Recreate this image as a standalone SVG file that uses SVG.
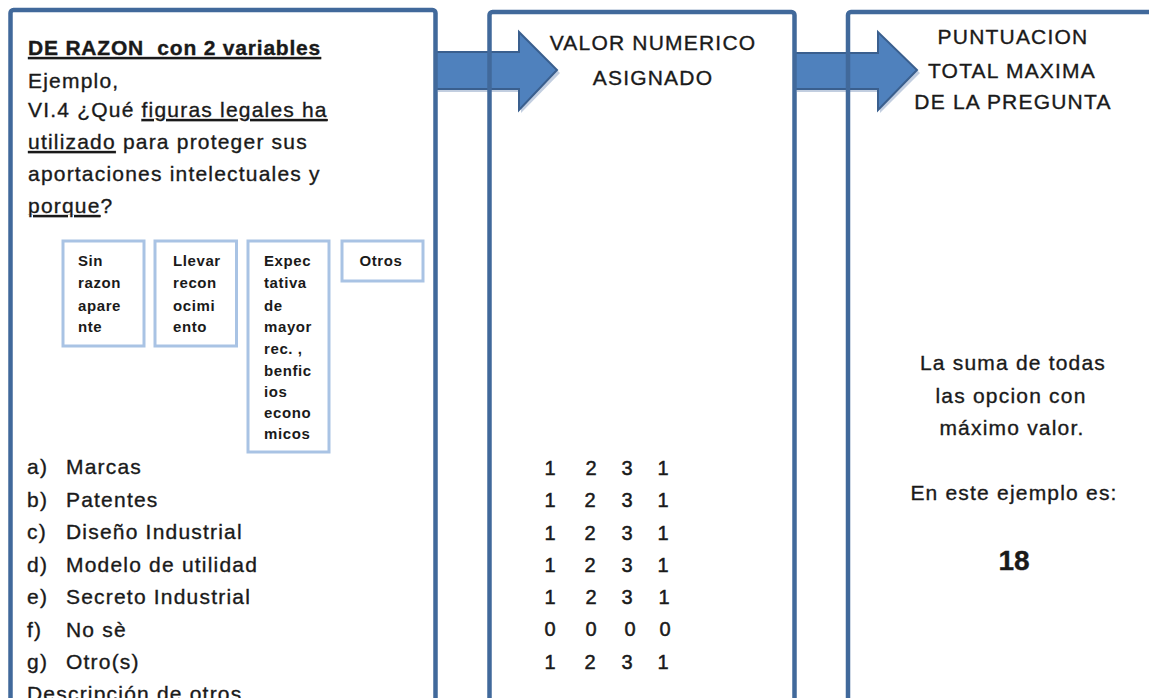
<svg xmlns="http://www.w3.org/2000/svg" width="1149" height="698" viewBox="0 0 1149 698">
<style>
.box{fill:#ffffff;stroke:none}
.border{fill:none;stroke:#41699b;stroke-width:4.5}
.arrow{fill:#4f81bd;stroke:#3a5f8e;stroke-width:2}
.shadow{fill:#9aaecb;opacity:0.6}
.opt{fill:#ffffff;stroke:#a9c3e4;stroke-width:3}
.t{font-family:"Liberation Sans",Arial,sans-serif;font-size:21px;fill:#1a1a1a;stroke:#1a1a1a;stroke-width:0.35;letter-spacing:1.2px}
.b{font-weight:bold;letter-spacing:0.8px}
.s{font-family:"Liberation Sans",Arial,sans-serif;font-size:15px;font-weight:bold;fill:#1a1a1a;letter-spacing:0.6px}
.c{text-anchor:middle}
.u{text-decoration:underline}
.n{font-family:"Liberation Sans",Arial,sans-serif;font-size:20px;fill:#1a1a1a;stroke:#1a1a1a;stroke-width:0.5;text-anchor:middle}
</style>
<g id="fills">
<rect class="box" x="10.5" y="10" width="425" height="720" rx="3"/>
<rect class="box" x="489.5" y="12" width="305" height="720" rx="3"/>
<rect class="box" x="848" y="12" width="320" height="720" rx="3"/>
</g>
<g id="connectors">
<polygon class="shadow" points="438,55 521,55 521,35 560,73 521,113 521,92 438,92"/>
<polygon class="arrow" points="436,52 519,52 519,32 557,70 519,110 519,89 436,89"/>
<polygon class="shadow" points="797,56 880,56 880,35 920,73 880,113 880,92 797,92"/>
<polygon class="arrow" points="795,53 878,53 878,32 917,70 878,110 878,89 795,89"/>
</g>
<g id="borders">
<rect class="border" x="10.5" y="10" width="425" height="720" rx="3"/>
<rect class="border" x="489.5" y="12" width="305" height="720" rx="3"/>
<rect class="border" x="848" y="12" width="320" height="720" rx="3"/>
</g>
<g id="node-question">
<text class="t b u" x="28" y="55" xml:space="preserve">DE RAZON  con 2 variables</text>
<text class="t" x="28" y="88">Ejemplo,</text>
<text class="t" x="28" y="117">VI.4 ¿Qué <tspan class="u">figuras legales ha</tspan></text>
<text class="t" x="28" y="149"><tspan class="u">utilizado</tspan> para proteger sus</text>
<text class="t" x="28" y="181">aportaciones intelectuales y</text>
<text class="t" x="28" y="213"><tspan class="u">porque</tspan>?</text>
<g id="opt-a">
<rect class="opt" x="63" y="241" width="81" height="105"/>
<text class="s" x="78" y="266">Sin</text>
<text class="s" x="78" y="288">razon</text>
<text class="s" x="78" y="310.5">apare</text>
<text class="s" x="78" y="332">nte</text>
</g>
<g id="opt-b">
<rect class="opt" x="155" y="241" width="81.5" height="105"/>
<text class="s" x="173" y="266">Llevar</text>
<text class="s" x="173" y="288">recon</text>
<text class="s" x="173" y="310.5">ocimi</text>
<text class="s" x="173" y="332">ento</text>
</g>
<g id="opt-c">
<rect class="opt" x="248" y="241" width="81" height="211"/>
<text class="s" x="264" y="266">Expec</text>
<text class="s" x="264" y="288">tativa</text>
<text class="s" x="264" y="310.5">de</text>
<text class="s" x="264" y="332">mayor</text>
<text class="s" x="264" y="353.5">rec. ,</text>
<text class="s" x="264" y="375.5">benfic</text>
<text class="s" x="264" y="397">ios</text>
<text class="s" x="264" y="418">econo</text>
<text class="s" x="264" y="439">micos</text>
</g>
<g id="opt-d">
<rect class="opt" x="342" y="241" width="81" height="40"/>
<text class="s c" x="381" y="266">Otros</text>
</g>
<text class="t" x="27" y="474">a)</text><text class="t" x="66" y="474">Marcas</text>
<text class="t" x="27" y="507">b)</text><text class="t" x="66" y="507">Patentes</text>
<text class="t" x="27" y="539">c)</text><text class="t" x="66" y="539">Diseño Industrial</text>
<text class="t" x="27" y="572">d)</text><text class="t" x="66" y="572">Modelo de utilidad</text>
<text class="t" x="27" y="604">e)</text><text class="t" x="66" y="604">Secreto Industrial</text>
<text class="t" x="27" y="637">f)</text><text class="t" x="66" y="637">No sè</text>
<text class="t" x="27" y="669">g)</text><text class="t" x="66" y="669">Otro(s)</text>
<text class="t" x="27" y="701">Descripción de otros</text>
</g>
<g id="node-valor">
<text class="t c" x="653" y="50">VALOR NUMERICO</text>
<text class="t c" x="653" y="85">ASIGNADO</text>
<g id="values">
<text class="n" x="550" y="475">1</text><text class="n" x="591" y="475">2</text><text class="n" x="627" y="475">3</text><text class="n" x="663" y="475">1</text>
<text class="n" x="550" y="507">1</text><text class="n" x="590" y="507">2</text><text class="n" x="627" y="507">3</text><text class="n" x="663" y="507">1</text>
<text class="n" x="550" y="540">1</text><text class="n" x="590" y="540">2</text><text class="n" x="627" y="540">3</text><text class="n" x="663" y="540">1</text>
<text class="n" x="550" y="572">1</text><text class="n" x="590" y="572">2</text><text class="n" x="627" y="572">3</text><text class="n" x="663" y="572">1</text>
<text class="n" x="550" y="604">1</text><text class="n" x="591" y="604">2</text><text class="n" x="627" y="604">3</text><text class="n" x="664" y="604">1</text>
<text class="n" x="550" y="636">0</text><text class="n" x="591" y="636">0</text><text class="n" x="630" y="636">0</text><text class="n" x="665" y="636">0</text>
<text class="n" x="550" y="669">1</text><text class="n" x="590" y="669">2</text><text class="n" x="627" y="669">3</text><text class="n" x="663" y="669">1</text>
</g>
</g>
<g id="node-total">
<text class="t c" x="1013" y="44">PUNTUACION</text>
<text class="t c" x="1012" y="78">TOTAL MAXIMA</text>
<text class="t c" x="1013" y="109">DE LA PREGUNTA</text>
<text class="t c" x="1013" y="370">La suma de todas</text>
<text class="t c" x="1011" y="403">las opcion con</text>
<text class="t c" x="1012" y="435">máximo valor.</text>
<text class="t c" x="1014" y="500">En este ejemplo es:</text>
<text class="t b c" x="1014" y="570" style="font-size:28px;letter-spacing:0">18</text>
</g>
</svg>
